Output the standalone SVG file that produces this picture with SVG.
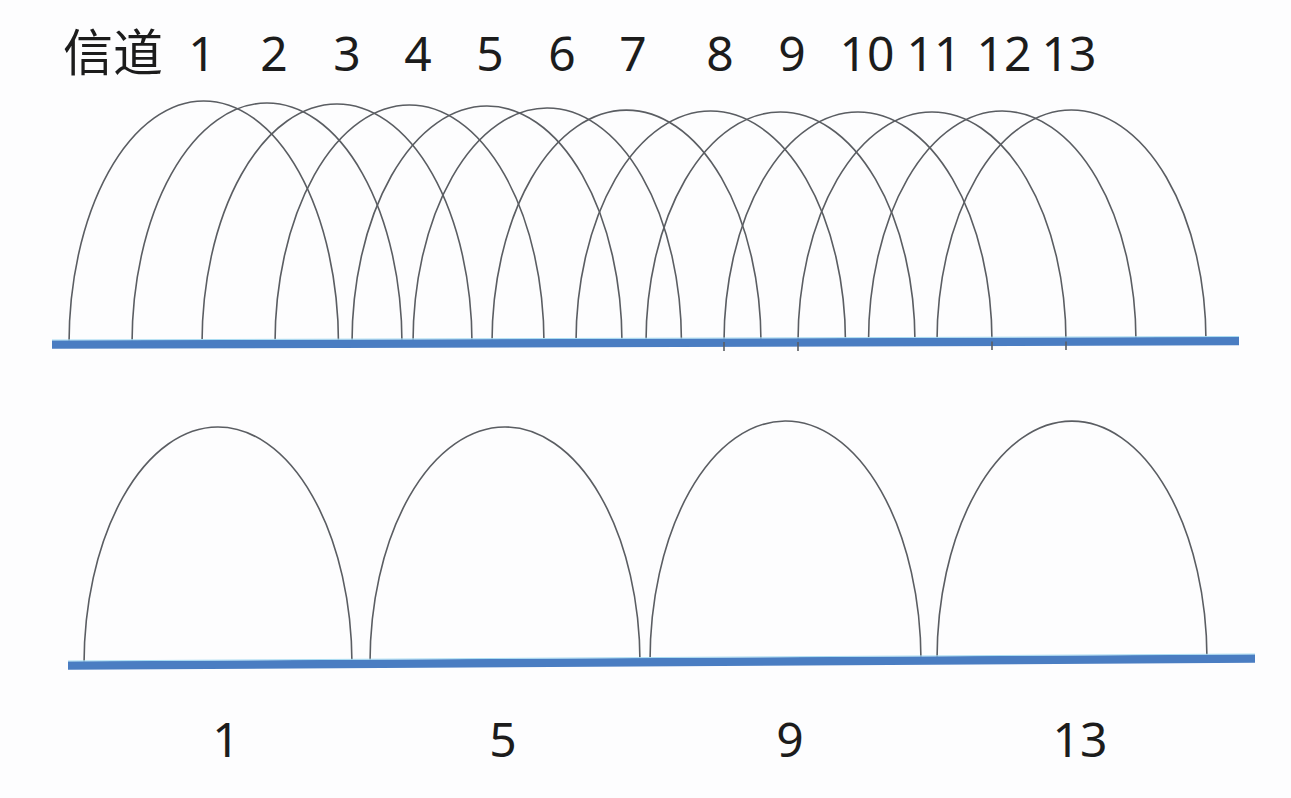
<svg xmlns="http://www.w3.org/2000/svg" width="1291" height="798" viewBox="0 0 1291 798">
  <style>
    .arc { fill: none; stroke: #5a5d62; stroke-width: 1.6; }
    .bar { stroke: #4a7dc2; stroke-width: 8.5; stroke-linecap: butt; }
    .hl { stroke: #a8dcf2; stroke-width: 1; }
    .lbl { font-family: "Noto Sans", "Noto Sans CJK SC", sans-serif; font-size: 48px; fill: #1c1c1c; text-anchor: middle; }
    .cjk { font-family: "Noto Sans CJK SC", "Noto Sans", sans-serif; font-size: 50px; fill: #1c1c1c; }
  </style>
  <rect x="0" y="0" width="1291" height="798" fill="#fdfdfe"/>

  <g id="top-labels">
    <text class="cjk" x="63" y="71">信道</text>
    <text class="lbl" x="202" y="71">1</text>
    <text class="lbl" x="274" y="71">2</text>
    <text class="lbl" x="347" y="71">3</text>
    <text class="lbl" x="418" y="71">4</text>
    <text class="lbl" x="490" y="71">5</text>
    <text class="lbl" x="562" y="71">6</text>
    <text class="lbl" x="633" y="71">7</text>
    <text class="lbl" x="720" y="71">8</text>
    <text class="lbl" x="792" y="71">9</text>
    <text class="lbl" x="867" y="71">10</text>
    <text class="lbl" x="934" y="71">11</text>
    <text class="lbl" x="1004" y="71">12</text>
    <text class="lbl" x="1069" y="71">13</text>
  </g>

  <g id="top-channels">
    <path id="ch1" class="arc" d="M69 344.4 A134.75 243.1 0 0 1 338.5 343.7"/>
    <path id="ch2" class="arc" d="M132 344.3 A135 240.9 0 0 1 402 343.5"/>
    <path id="ch3" class="arc" d="M202 344.1 A135 239.7 0 0 1 472 343.3"/>
    <path id="ch4" class="arc" d="M275 343.8 A134.5 238.4 0 0 1 544 343.1"/>
    <path id="ch5" class="arc" d="M352 343.6 A135 237.2 0 0 1 622 342.8"/>
    <path id="ch6" class="arc" d="M413 343.4 A134.25 235 0 0 1 681.5 342.6"/>
    <path id="ch7" class="arc" d="M492 343.2 A134.5 232.8 0 0 1 761 342.4"/>
    <path id="ch8" class="arc" d="M576 343 A134.75 231.6 0 0 1 845.5 342.2"/>
    <path id="ch9" class="arc" d="M646 342.8 A134.5 230.4 0 0 1 915 342"/>
    <path id="ch10" class="arc" d="M724 342.5 A134 230.1 0 0 1 992 341.7"/>
    <path id="ch11" class="arc" d="M798 342.3 A134 229.9 0 0 1 1066 341.5"/>
    <path id="ch12" class="arc" d="M868.5 342.1 A133.75 230.7 0 0 1 1136 341.3"/>
    <path id="ch13" class="arc" d="M937 341.9 A134.5 231.5 0 0 1 1206 341.1"/>
  </g>

  <g id="top-bar">
    <line class="bar" x1="52" y1="344.5" x2="1239" y2="341"/>
    <line class="hl" x1="52" y1="340" x2="1239" y2="336.5"/>
  </g>

  <g id="top-ticks">
    <line class="arc" x1="724" y1="342" x2="724" y2="351"/>
    <line class="arc" x1="798" y1="342" x2="798" y2="351"/>
    <line class="arc" x1="992" y1="341.5" x2="992" y2="350"/>
    <line class="arc" x1="1066" y1="341.5" x2="1066" y2="350"/>
  </g>

  <g id="bottom-channels">
    <path id="b1" class="arc" d="M84 665.4 A134 237.6 0 0 1 352 663.8"/>
    <path id="b5" class="arc" d="M370 663.7 A135 235.9 0 0 1 640 662.1"/>
    <path id="b9" class="arc" d="M650 662.1 A135.5 240.3 0 0 1 921 660.5"/>
    <path id="b13" class="arc" d="M937 660.4 A135 238.6 0 0 1 1207 658.8"/>
  </g>

  <g id="bottom-bar">
    <line class="bar" x1="68" y1="665.5" x2="1255" y2="658.5"/>
    <line class="hl" x1="68" y1="661" x2="1255" y2="654"/>
  </g>

  <g id="bottom-labels">
    <text class="lbl" x="226" y="757">1</text>
    <text class="lbl" x="503" y="757">5</text>
    <text class="lbl" x="790" y="757">9</text>
    <text class="lbl" x="1080" y="757">13</text>
  </g>
</svg>
